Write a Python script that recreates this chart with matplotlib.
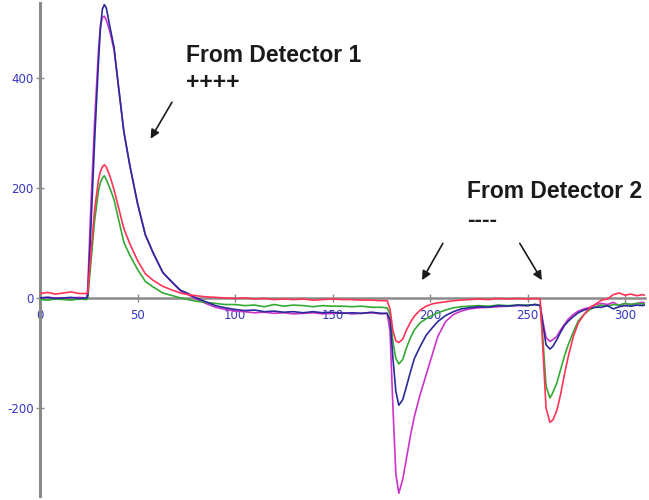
import matplotlib
matplotlib.use("Agg")
import matplotlib.pyplot as plt

# ---- data ----
x = [0, 4, 8, 12, 16, 20, 24, 24.5, 26, 28, 30, 31, 32, 33, 34, 36, 38, 40, 43, 46,
     50, 54, 58, 63, 68, 72, 76, 80, 85, 90, 95, 100, 105, 110, 115, 120, 125, 130,
     135, 140, 145, 150, 155, 160, 165, 170, 175, 178, 179.5, 181, 182.5, 184, 186,
     188, 190, 192, 195, 198, 201, 204, 208, 212, 216, 220, 225, 230, 235, 240, 245,
     250, 254, 256.5, 258, 259.5, 261.5, 263, 265, 267, 269, 271, 273.5, 276, 279,
     282, 285, 288, 291, 294, 297, 300, 303, 306, 309, 310]

blue = [0, 1, -1, 0, 1, -1, 0, 5, 120, 285, 430, 490, 525, 533, 527, 490, 455, 391, 302, 242,
        172, 115, 82, 46, 28, 14, 8, 0, -7, -14, -18, -21, -23, -22, -25, -24, -26, -25,
        -27, -25, -27, -26, -28, -27, -28, -26, -28, -28, -40, -110, -170, -195, -185,
        -160, -134, -110, -88, -68, -55, -43, -32, -25, -20, -18, -16, -17, -14, -15, -13,
        -14, -12, -14, -50, -85, -93, -88, -76, -62, -50, -42, -34, -27, -22,
        -19, -17, -17, -14, -20, -16, -14, -15, -13, -14, -13]

magenta = [0, 1, 0, -1, 0, 1, 0, 20, 160, 320, 450, 495, 510, 512, 505, 482, 450, 393, 302, 242,
           172, 115, 82, 46, 27, 13, 6, -2, -10, -17, -21, -24, -25, -27, -26, -28, -27, -29,
           -28, -27, -29, -28, -27, -29, -28, -27, -29, -28, -60, -200, -320, -355, -330,
           -290, -250, -215, -175, -140, -105, -70, -43, -30, -24, -20, -18, -17, -16, -15, -14,
           -14, -12, -14, -45, -72, -79, -76, -70, -58, -48, -38, -30, -24, -20,
           -17, -12, -10, -12, -8, -14, -10, -12, -10, -8, -9]

green = [-3, -4, -2, -3, -4, -2, -3, 0, 60, 140, 195, 210, 218, 222, 215, 198, 178, 147, 101, 78,
         52, 30, 20, 9, 4, 0, -3, -6, -8, -10, -12, -12, -14, -13, -16, -12, -15, -13,
         -14, -16, -14, -15, -15, -16, -15, -17, -17, -18, -30, -80, -110, -120, -112,
         -90, -72, -58, -45, -38, -32, -27, -22, -18, -16, -15, -14, -15, -13, -14, -13,
         -13, -12, -13, -80, -160, -182, -172, -155, -130, -105, -84, -62, -42, -30,
         -21, -16, -13, -15, -12, -13, -10, -12, -10, -11, -10]

red = [8, 10, 7, 9, 11, 8, 8, 10, 75, 160, 215, 230, 238, 242, 238, 220, 196, 168, 126, 99,
       68, 44, 32, 21, 14, 9, 6, 4, 2, 1, 0, -1, 0, -2, -1, -3, -2, -3,
       -2, -4, -3, -2, -3, -3, -4, -4, -5, -5, -20, -60, -78, -81, -75,
       -58, -44, -33, -22, -15, -11, -9, -7, -5, -4, -3, -2, -3, -1, -2, -1,
       -2, -1, -2, -100, -200, -226, -222, -205, -175, -138, -105, -70, -46, -30,
       -18, -11, -4, -2, 6, 9, 5, 7, 4, 6, 5]

x_ticks = [0, 50, 100, 150, 200, 250, 300]
y_ticks = [-200, 0, 200, 400]

# ---- figure ----
fig = plt.figure(figsize=(6.49, 5), dpi=100)
ax = fig.add_axes([40 / 649, 4 / 500, 604.5 / 649, 493 / 500])
ax.set_xlim(0, 310)
ax.set_ylim(-360, 536)

lw = 1.2
ax.plot(x, magenta, color="#cc33cc", lw=lw, zorder=3)
ax.plot(x, blue, color="#2a2a9a", lw=lw, zorder=4)
ax.plot(x, green, color="#33aa33", lw=lw, zorder=3)
ax.plot(x, red, color="#ff3355", lw=lw, zorder=5)

for s in ("top", "right"):
    ax.spines[s].set_visible(False)
ax.spines["bottom"].set_position(("data", 0))
ax.spines["left"].set_position(("data", 0))
ax.spines["bottom"].set_color("#8a8a8a")
ax.spines["left"].set_color("#8a8a8a")
ax.spines["bottom"].set_linewidth(1.8)
ax.spines["left"].set_linewidth(2.2)
ax.spines["bottom"].set_zorder(2)

ax.set_xticks(x_ticks)
ax.set_yticks(y_ticks)
ax.set_xticklabels([str(v) for v in x_ticks])
ax.set_yticklabels([str(v) for v in y_ticks])
tick_col = "#3535c0"
ax.tick_params(axis="x", direction="inout", length=6, width=1, color="#8a8a8a",
               labelcolor=tick_col, labelsize=8.5, pad=5)
ax.tick_params(axis="y", direction="inout", length=6, width=1, color="#8a8a8a",
               labelcolor=tick_col, labelsize=8.5, pad=1.5)

# ---- annotations ----
font = dict(family=["Liberation Sans", "DejaVu Sans"], fontweight="bold",
            fontsize=16.5, color="#1a1a1a")
ax.text(74.9, 429, "From Detector 1", ha="left", va="baseline", **font)
ax.text(74.9, 380, "++++", ha="left", va="baseline", **font)
ax.text(219, 181, "From Detector 2", ha="left", va="baseline", **font)
ax.text(219, 129, "----", ha="left", va="baseline", **font)

arrow = dict(arrowstyle="-|>", color="#1a1a1a", lw=1.2, mutation_scale=13)
ax.annotate("", xy=(56.0, 285), xytext=(68.4, 360), arrowprops=arrow)
ax.annotate("", xy=(195.2, 28), xytext=(207.3, 103.6), arrowprops=arrow)
ax.annotate("", xy=(258.1, 28), xytext=(245.3, 103.6), arrowprops=arrow)

fig.savefig("out.png", dpi=100)
